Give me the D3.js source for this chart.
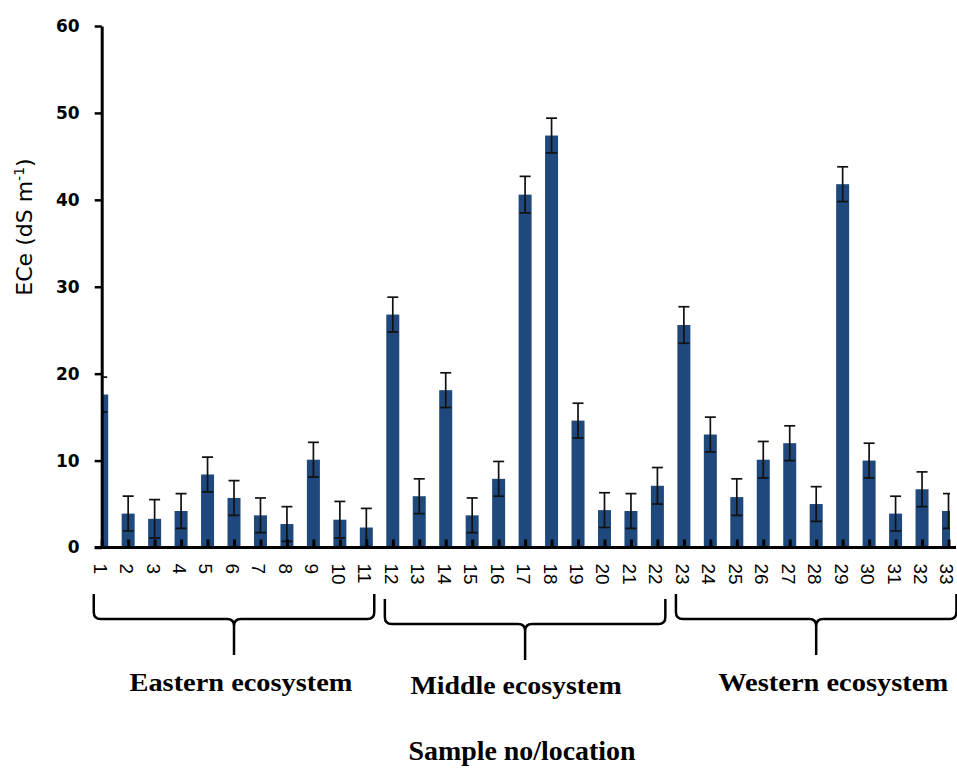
<!DOCTYPE html>
<html>
<head>
<meta charset="utf-8">
<script src="https://cdn.jsdelivr.net/npm/d3@7"></script>
<style>
  body { margin: 0; background: #fff; }
</style>
</head>
<body>
<svg id="chart"></svg>
<script>
const categories = ["1","2","3","4","5","6","7","8","9","10","11",
                    "12","13","14","15","16","17","18","19","20","21","22",
                    "23","24","25","26","27","28","29","30","31","32","33"]
const values = [17.6, 3.9, 3.3, 4.2, 8.4, 5.7, 3.7, 2.7, 10.1, 3.2, 2.3,
                26.8, 5.9, 18.1, 3.7, 7.9, 40.6, 47.4, 14.6, 4.3, 4.2, 7.1,
                25.6, 13.0, 5.8, 10.1, 12.0, 5.0, 41.8, 10.0, 3.9, 6.7, 4.2]
const errors = [2.0, 2.0, 2.2, 2.0, 2.0, 2.0, 2.0, 2.0, 2.0, 2.1, 2.2,
                2.0, 2.0, 2.0, 2.0, 2.0, 2.1, 2.0, 2.0, 2.0, 2.0, 2.1,
                2.1, 2.0, 2.1, 2.1, 2.0, 2.0, 2.0, 2.0, 2.0, 2.0, 2.0]
const yTicks = [0, 10, 20, 30, 40, 50, 60]
const groups = ["Eastern ecosystem", "Middle ecosystem", "Western ecosystem"]
const groupFirst = ["1", "12", "23"]
const groupLast = ["11", "22", "33"]
const xTitle = "Sample no/location"

const width = 957,
      height = 769,
      left = 101.7,
      clipRight = 950,
      base = 547.5

const data = categories.map((c, i) => ({cat: c, value: values[i], err: errors[i]}))

const x = d3.scalePoint()
    .domain(categories)
    .range([left, 948.5])

const y = d3.scaleLinear()
    .domain([0, 60])
    .range([base, 26])

const barW = 13,
      capW = 11,
      step = x.step()

const svg = d3.select("#chart")
    .attr("width", width)
    .attr("height", height)
    .attr("viewBox", [0, 0, width, height])

svg.append("defs").append("clipPath")
    .attr("id", "plot")
  .append("rect")
    .attr("x", left)
    .attr("y", 0)
    .attr("width", clipRight - left)
    .attr("height", base)

const plot = svg.append("g").attr("clip-path", "url(#plot)")

// bars
plot.selectAll("rect.bar")
  .data(data)
  .join("rect")
    .attr("class", "bar")
    .attr("x", d => x(d.cat) - barW / 2)
    .attr("width", barW)
    .attr("y", d => y(d.value))
    .attr("height", d => y(0) - y(d.value))
    .attr("fill", "#1f497d")

// error bars
const eb = plot.selectAll("g.err")
  .data(data)
  .join("g")
    .attr("class", "err")
    .attr("stroke", "#111")
    .attr("stroke-width", 1.7)

eb.append("line")
    .attr("x1", d => x(d.cat)).attr("x2", d => x(d.cat))
    .attr("y1", d => y(d.value + d.err)).attr("y2", d => y(d.value - d.err))
eb.append("line")
    .attr("x1", d => x(d.cat) - capW / 2).attr("x2", d => x(d.cat) + capW / 2)
    .attr("y1", d => y(d.value + d.err)).attr("y2", d => y(d.value + d.err))
eb.append("line")
    .attr("x1", d => x(d.cat) - capW / 2).attr("x2", d => x(d.cat) + capW / 2)
    .attr("y1", d => y(d.value - d.err)).attr("y2", d => y(d.value - d.err))

// x axis: inward ticks, rotated labels
const xAxis = svg.append("g")
    .attr("transform", `translate(0,${base})`)
    .call(d3.axisBottom(x).tickSizeInner(-8).tickSizeOuter(0))
    .call(g => g.select(".domain").remove())
xAxis.selectAll(".tick line")
    .attr("stroke", "#000")
    .attr("stroke-width", 3)
xAxis.selectAll(".tick text")
    .attr("transform", "rotate(90)")
    .attr("x", 16)
    .attr("y", 0)
    .attr("dy", "0.45em")
    .attr("text-anchor", "start")
    .attr("font-family", "'Liberation Sans', Arial, sans-serif")
    .attr("font-size", 19)
    .attr("fill", "#000")

svg.append("line")
    .attr("x1", left - 7).attr("x2", 956)
    .attr("y1", base).attr("y2", base)
    .attr("stroke", "#000")
    .attr("stroke-width", 3)

// y axis
const yAxis = svg.append("g")
    .attr("transform", `translate(${left},0)`)
    .call(d3.axisLeft(y).tickValues(yTicks).tickSize(7).tickPadding(15).tickSizeOuter(0))
yAxis.select(".domain")
    .attr("stroke", "#000")
    .attr("stroke-width", 3)
yAxis.selectAll(".tick line")
    .attr("stroke", "#000")
    .attr("stroke-width", 2.5)
yAxis.selectAll(".tick text")
    .attr("font-family", "'DejaVu Sans', Verdana, sans-serif")
    .attr("font-weight", "bold")
    .attr("font-size", 17)
    .attr("fill", "#000")

// y title
const yt = svg.append("text")
    .attr("transform", "translate(32,227) rotate(-90)")
    .attr("text-anchor", "middle")
    .attr("font-family", "'DejaVu Sans', Verdana, sans-serif")
    .attr("font-size", 22)
    .attr("fill", "#000")
yt.append("tspan").text("ECe (dS m")
yt.append("tspan").attr("baseline-shift", "super").attr("font-size", 14).text("-1")
yt.append("tspan").text(")")

// group braces
const braceDy = [0, 5, 0],
      labelDx = [7, -9, 17],
      labelW = [223, 211, 230],
      r = 7

groups.forEach((name, i) => {
  const x0 = x(groupFirst[i]) - step * 0.3,
        x1 = x(groupLast[i]) + step * 0.3,
        cx = (x0 + x1) / 2,
        top = 594 + braceDy[i],
        h = 619 + braceDy[i],
        tip = 655 + braceDy[i]
  const p = d3.path()
  p.moveTo(x0, top)
  p.lineTo(x0, h - r)
  p.quadraticCurveTo(x0, h, x0 + r, h)
  p.lineTo(cx - r, h)
  p.quadraticCurveTo(cx, h, cx, h + r)
  p.lineTo(cx, tip)
  p.moveTo(cx, h + r)
  p.quadraticCurveTo(cx, h, cx + r, h)
  p.lineTo(x1 - r, h)
  p.quadraticCurveTo(x1, h, x1, h - r)
  p.lineTo(x1, top)
  svg.append("path")
      .attr("d", p.toString())
      .attr("fill", "none")
      .attr("stroke", "#000")
      .attr("stroke-width", 2.5)

  svg.append("text")
      .attr("x", cx + labelDx[i] - labelW[i] / 2)
      .attr("y", 691 + braceDy[i] / 2)
      .attr("textLength", labelW[i])
      .attr("lengthAdjust", "spacingAndGlyphs")
      .attr("font-family", "'Liberation Serif', 'Times New Roman', serif")
      .attr("font-weight", "bold")
      .attr("font-size", 25)
      .attr("fill", "#000")
      .text(name)
})

// x title
svg.append("text")
    .attr("x", 522 - 227 / 2)
    .attr("y", 760)
    .attr("textLength", 227)
    .attr("lengthAdjust", "spacingAndGlyphs")
    .attr("font-family", "'Liberation Serif', 'Times New Roman', serif")
    .attr("font-weight", "bold")
    .attr("font-size", 27)
    .attr("fill", "#000")
    .text(xTitle)
</script>
</body>
</html>
